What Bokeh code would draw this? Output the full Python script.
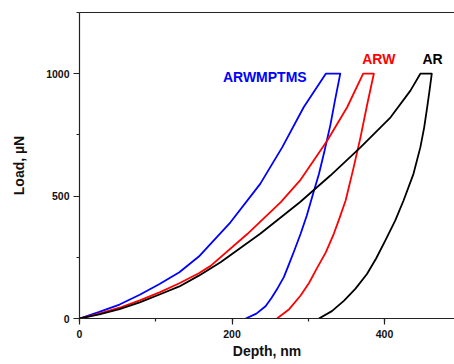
from bokeh.plotting import figure
from bokeh.models import Range1d, SingleIntervalTicker, LinearAxis, FixedTicker
from bokeh.core.properties import value
from bokeh.embed import file_html
from bokeh.resources import INLINE

# AR (black): loading, hold, unloading
depth_ar = [0, 26, 52.5, 79, 105, 131, 156.5, 185, 237, 289, 329, 368.5, 408, 434, 447,
            462, 459, 456, 452, 447, 438, 425, 414, 401, 389, 377, 362, 347, 331, 314]
load_ar = [0, 17, 38, 66, 98, 131, 175, 230, 346, 475, 584, 699, 822, 931, 1000,
           1000, 930, 863, 780, 699, 591, 482, 400, 318, 245, 182, 122, 73, 30, 0]

# ARW (red)
depth_arw = [0, 26, 52.5, 79, 105, 131, 156.5, 172, 220, 264, 289, 325, 351, 372,
             386, 377, 368.5, 359, 349, 341, 333.5, 323, 312, 301, 290, 275, 259]
load_arw = [0, 20, 44, 74, 107, 144, 185, 215, 345, 475, 563, 727, 863, 1000,
            1000, 870, 740, 610, 482, 410, 346, 270, 209, 145, 94, 38, 0]

# ARWMPTMS (blue)
depth_arwm = [0, 26, 52.5, 79, 105, 131, 156.5, 198, 237, 266, 294, 323,
              342, 335, 329, 321, 314, 305, 298, 290, 282, 274.5, 268, 260, 252, 244, 232, 218]
load_arwm = [0, 27, 57, 97, 141, 189, 253, 393, 550, 700, 863, 1000,
             1000, 890, 790, 680, 590, 495, 420, 346, 280, 220, 169, 125, 85, 50, 20, 0]

series_names = ["ARWMPTMS", "ARW", "AR"]
series_colors = ["#0000FF", "#FF0000", "#000000"]
label_x = [243, 392.5, 463]
label_y = [988, 1060, 1060]

x_ticks_interval = 200
y_ticks_interval = 500

FONT = "Liberation Sans"

p = figure(width=454, height=364, x_range=Range1d(0, 491.8), y_range=Range1d(0, 1250),
           output_backend="svg", toolbar_location=None,
           min_border_left=79, min_border_right=0, min_border_top=12, min_border_bottom=46,
           x_axis_label="Depth, nm", y_axis_label="Load, µN")
p.grid.visible = False
p.outline_line_color = None
p.background_fill_color = "white"

p.xaxis.ticker = SingleIntervalTicker(interval=x_ticks_interval, num_minor_ticks=2)
p.yaxis.ticker = SingleIntervalTicker(interval=y_ticks_interval, num_minor_ticks=2)

for ax in (p.xaxis[0], p.yaxis[0]):
    ax.axis_line_color = "#222222"
    ax.axis_line_width = 1.2
    ax.major_tick_line_color = "#222222"
    ax.minor_tick_line_color = "#222222"
    ax.major_tick_line_width = 1.2
    ax.minor_tick_line_width = 1.2
    ax.major_tick_in = 0
    ax.major_tick_out = 6
    ax.minor_tick_in = 0
    ax.minor_tick_out = 3
    ax.major_label_text_font = FONT
    ax.major_label_text_font_style = "bold"
    ax.major_label_text_font_size = "10.5px"
    ax.major_label_text_color = "#111111"
    ax.axis_label_text_font = FONT
    ax.axis_label_text_font_style = "bold"
    ax.axis_label_text_font_size = "14px"
    ax.axis_label_text_color = "#111111"

p.xaxis.major_label_standoff = 5
p.xaxis.axis_label_standoff = 2
p.yaxis.major_label_standoff = 4
p.yaxis.axis_label_standoff = 16

top = LinearAxis(ticker=FixedTicker(ticks=[]), major_tick_out=0, minor_tick_out=0,
                 major_tick_in=0, minor_tick_in=0,
                 major_label_text_font_size="0px", axis_line_color="#222222",
                 axis_line_width=1.2)
p.add_layout(top, "above")

curves = [(depth_arwm, load_arwm), (depth_arw, load_arw), (depth_ar, load_ar)]
for (xs, ys), c in zip(curves, series_colors):
    p.line(xs, ys, line_color=c, line_width=1.8, line_join="round")

p.text(x=label_x, y=label_y, text=series_names, text_color=series_colors,
       text_font=value(FONT), text_font_style="bold", text_font_size="14px",
       text_align="center", text_baseline="middle")

open("out.html", "w").write(file_html(p, INLINE))
